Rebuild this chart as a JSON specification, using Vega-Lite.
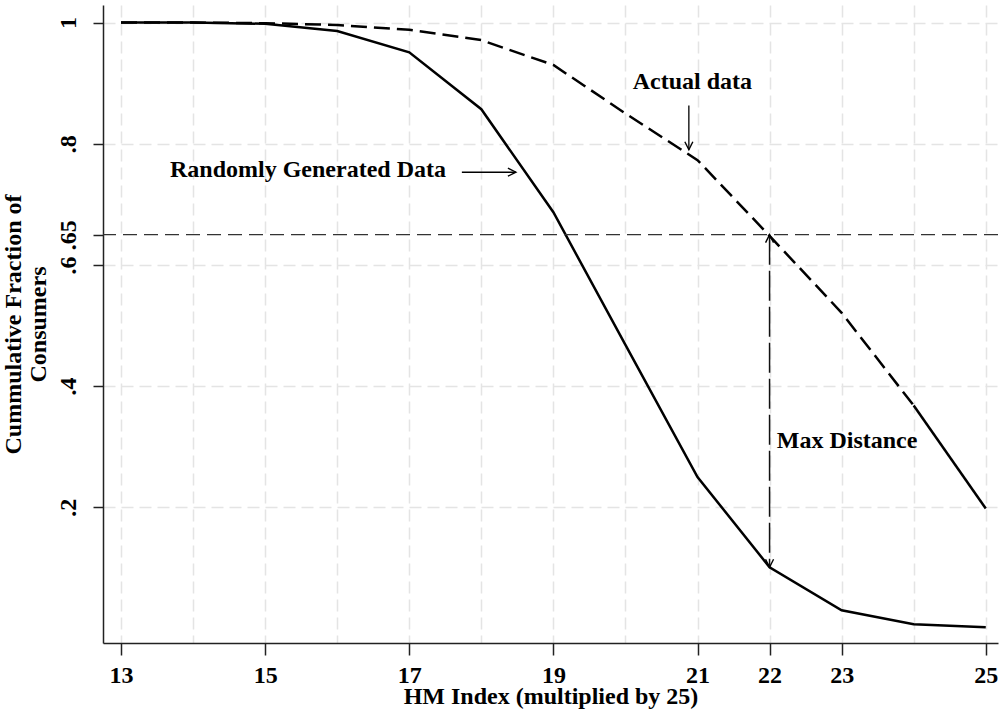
{
  "$schema": "https://vega.github.io/schema/vega-lite/v6.json",
  "width": 895,
  "height": 638,
  "autosize": "none",
  "padding": {"left": 103, "top": 5, "right": 3, "bottom": 73},
  "background": "white",
  "config": {
    "view": {"stroke": null},
    "font": "Liberation Serif",
    "axis": {
      "labelFont": "Liberation Serif",
      "labelFontWeight": "bold",
      "labelFontSize": 24,
      "labelColor": "#000",
      "titleFont": "Liberation Serif",
      "titleFontWeight": "bold",
      "titleFontSize": 24,
      "titleColor": "#000",
      "domainColor": "#222",
      "domainWidth": 1.5,
      "tickColor": "#222",
      "tickWidth": 1.5,
      "gridColor": "#e4e4e4",
      "gridDash": [12, 6],
      "gridWidth": 1.5,
      "labelOverlap": false,
      "labelBound": false,
      "labelFlush": false
    }
  },
  "datasets": {
    "curves": [
      {"hm": 13, "frac": 1.0, "series": "Random"},
      {"hm": 14, "frac": 1.0, "series": "Random"},
      {"hm": 15, "frac": 0.998, "series": "Random"},
      {"hm": 16, "frac": 0.986, "series": "Random"},
      {"hm": 17, "frac": 0.951, "series": "Random"},
      {"hm": 18, "frac": 0.857, "series": "Random"},
      {"hm": 19, "frac": 0.687, "series": "Random"},
      {"hm": 20, "frac": 0.468, "series": "Random"},
      {"hm": 21, "frac": 0.25, "series": "Random"},
      {"hm": 22, "frac": 0.101, "series": "Random"},
      {"hm": 23, "frac": 0.03, "series": "Random"},
      {"hm": 24, "frac": 0.007, "series": "Random"},
      {"hm": 25, "frac": 0.002, "series": "Random"},
      {"hm": 13, "frac": 1.0, "series": "Actual"},
      {"hm": 14, "frac": 1.0, "series": "Actual"},
      {"hm": 15, "frac": 0.999, "series": "Actual"},
      {"hm": 16, "frac": 0.996, "series": "Actual"},
      {"hm": 17, "frac": 0.988, "series": "Actual"},
      {"hm": 18, "frac": 0.971, "series": "Actual"},
      {"hm": 19, "frac": 0.93, "series": "Actual"},
      {"hm": 20, "frac": 0.85, "series": "Actual"},
      {"hm": 21, "frac": 0.773, "series": "Actual"},
      {"hm": 22, "frac": 0.648, "series": "Actual"},
      {"hm": 23, "frac": 0.521, "series": "Actual"},
      {"hm": 24, "frac": 0.368, "series": "Actual"},
      {"hm": 25, "frac": 0.198, "series": "Actual"}
    ],
    "threshold": [{"frac": 0.65}],
    "arrows": [
      {"name": "actual", "hm": 20.88, "frac": 0.863, "hm2": 20.88, "frac2": 0.79, "kind": "solid"},
      {"name": "random", "hm": 17.73, "frac": 0.753, "hm2": 18.48, "frac2": 0.753, "kind": "solid"},
      {"name": "maxdist", "hm": 22, "frac": 0.65, "hm2": 22, "frac2": 0.101, "kind": "dashed"}
    ],
    "heads": [
      {"hm": 20.88, "frac": 0.79, "dir": "down"},
      {"hm": 18.48, "frac": 0.753, "dir": "right"},
      {"hm": 22, "frac": 0.65, "dir": "up"},
      {"hm": 22, "frac": 0.101, "dir": "down"}
    ],
    "labels": [
      {"hm": 20.1, "frac": 0.89, "text": "Actual data"},
      {"hm": 13.68, "frac": 0.745, "text": "Randomly Generated Data"},
      {"hm": 22.1, "frac": 0.298, "text": "Max Distance"}
    ]
  },
  "layer": [
    {
      "data": {"name": "curves"},
      "transform": [{"filter": "datum.series == 'Random'"}],
      "mark": {"type": "line", "color": "#000", "strokeWidth": 2.5},
      "encoding": {
        "x": {
          "field": "hm", "type": "quantitative",
          "scale": {"domain": [12.75, 25.17], "nice": false, "zero": false},
          "axis": {
            "title": "HM Index (multiplied by 25)",
            "values": [13, 14, 15, 16, 17, 18, 19, 20, 21, 22, 23, 24, 25],
            "labelExpr": "indexof([14, 16, 18, 20, 24], datum.value) >= 0 ? '' : format(datum.value, 'd')",
            "tickOpacity": {"condition": {"test": "indexof([14, 16, 18, 20, 24], datum.value) >= 0", "value": 0}, "value": 1},
            "tickSize": 12,
            "labelPadding": 8,
            "titlePadding": -3
          }
        },
        "y": {
          "field": "frac", "type": "quantitative",
          "scale": {"domain": [-0.024, 1.029], "nice": false, "zero": false},
          "axis": {
            "title": ["Cummulative Fraction of", "Consumers"],
            "values": [0.2, 0.4, 0.6, 0.65, 0.8, 1],
            "labelExpr": "datum.value == 1 ? '1' : slice(format(datum.value, '~g'), 1)",
            "labelAngle": 270,
            "labelAlign": "center",
            "labelBaseline": "alphabetic",
            "labelPadding": 18,
            "tickSize": 10,
            "gridOpacity": {"condition": {"test": "datum.value == 0.65", "value": 0}, "value": 1},
            "titlePadding": 6,
            "titleLineHeight": 25
          }
        }
      }
    },
    {
      "data": {"name": "curves"},
      "transform": [{"filter": "datum.series == 'Actual' && datum.hm <= 24"}],
      "mark": {"type": "line", "color": "#000", "strokeWidth": 2.5, "strokeDash": [16, 7]},
      "encoding": {
        "x": {"field": "hm", "type": "quantitative"},
        "y": {"field": "frac", "type": "quantitative"}
      }
    },
    {
      "data": {"name": "curves"},
      "transform": [{"filter": "datum.series == 'Actual' && datum.hm >= 24"}],
      "mark": {"type": "line", "color": "#000", "strokeWidth": 2.5},
      "encoding": {
        "x": {"field": "hm", "type": "quantitative"},
        "y": {"field": "frac", "type": "quantitative"}
      }
    },
    {
      "data": {"name": "threshold"},
      "mark": {"type": "rule", "color": "#333", "strokeDash": [14, 7], "strokeWidth": 1.3},
      "encoding": {
        "y": {"field": "frac", "type": "quantitative"}
      }
    },
    {
      "data": {"name": "arrows"},
      "transform": [{"filter": "datum.kind == 'solid'"}],
      "mark": {"type": "rule", "color": "#000", "strokeWidth": 1.3},
      "encoding": {
        "x": {"field": "hm", "type": "quantitative"},
        "y": {"field": "frac", "type": "quantitative"},
        "x2": {"field": "hm2"},
        "y2": {"field": "frac2"}
      }
    },
    {
      "data": {"name": "arrows"},
      "transform": [{"filter": "datum.kind == 'dashed'"}],
      "mark": {"type": "rule", "color": "#111", "strokeWidth": 1.5, "strokeDash": [30, 6]},
      "encoding": {
        "x": {"field": "hm", "type": "quantitative"},
        "y": {"field": "frac", "type": "quantitative"},
        "x2": {"field": "hm2"},
        "y2": {"field": "frac2"}
      }
    },
    {
      "data": {"name": "heads"},
      "mark": {"type": "point", "filled": false, "stroke": "#000", "strokeWidth": 1.4, "size": 256, "opacity": 1},
      "encoding": {
        "x": {"field": "hm", "type": "quantitative"},
        "y": {"field": "frac", "type": "quantitative"},
        "shape": {
          "field": "dir", "type": "nominal", "legend": null,
          "scale": {
            "domain": ["down", "up", "right"],
            "range": ["M -0.5 -1 L 0 0 L 0.5 -1", "M -0.5 1 L 0 0 L 0.5 1", "M -1 -0.5 L 0 0 L -1 0.5"]
          }
        }
      }
    },
    {
      "data": {"name": "labels"},
      "mark": {"type": "text", "align": "left", "baseline": "alphabetic", "font": "Liberation Serif", "fontWeight": "bold", "fontSize": 24, "color": "#000"},
      "encoding": {
        "x": {"field": "hm", "type": "quantitative"},
        "y": {"field": "frac", "type": "quantitative"},
        "text": {"field": "text", "type": "nominal"}
      }
    }
  ]
}
